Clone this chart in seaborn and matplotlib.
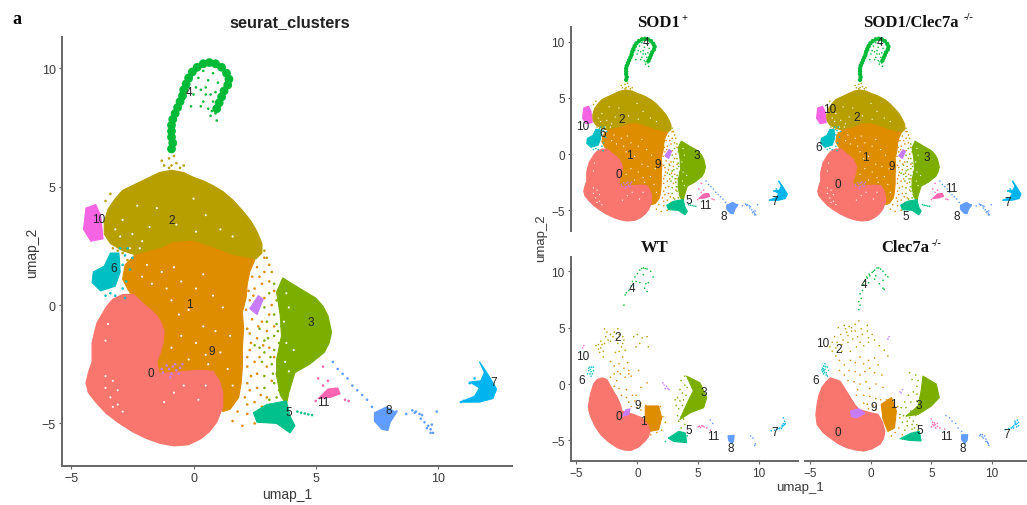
import matplotlib
matplotlib.use("Agg")
import matplotlib.pyplot as plt
import pandas as pd
import seaborn as sns

sns.set_theme(style="white")
plt.rcParams["font.family"] = ["Liberation Sans", "DejaVu Sans"]

PALETTE = {0: "#F8766D", 1: "#DE8C00", 2: "#B79F00", 3: "#7CAE00", 4: "#00BA38", 5: "#00C08B",
           6: "#00BFC4", 7: "#00B4F0", 8: "#619CFF", 9: "#C77CFF", 10: "#F564E3", 11: "#FF64B0", "gap": "#FFFFFF"}
TICKS_X = [-5, 0, 5, 10]
TICKS_Y = [-5, 0, 5, 10]

# ---------- outlines of the dense clouds and dots (umap_1, umap_2) ----------
outline_2 = [(-3.65,3.5),(-3.5,4.05),(-3.2,4.5),(-2.9,4.85),(-2.4,5.1),(-1.9,5.35),(-1.4,5.6),(-.9,5.7),(-.4,5.6),(0,5.4),(.4,5.25),(.8,5.05),(1.2,4.8),(1.6,4.45),(2,4),(2.35,3.55),(2.6,3.1),(2.8,2.6),(2.8,2.2),(2.55,1.95),(2.3,1.9),(1.5,2),(.5,2.2),(-.5,2.2),(-1.2,2.2),(-1.8,2),(-2.3,2.1),(-2.9,2.3),(-3.4,2.6),(-3.65,3)]
outline_1 = [(-2.4,2.1),(-1.3,2.4),(-.8,2.65),(0,2.7),(.55,2.5),(1.1,2.3),(1.6,2.1),(2.1,2),(2.5,1.9),(2.3,1.4),(2.2,.9),(2.15,.3),(2,-.3),(2.05,-1),(2,-1.8),(2,-2.6),(1.95,-3.3),(1.85,-3.9),(1.5,-4.4),(1.2,-4.5),(.9,-4),(.5,-3.5),(-.3,-3.2),(-1.8,-3),(-2,-1.5),(-2,-.5),(-2.4,.2),(-2.7,.7),(-2.9,1.1),(-2.8,1.7)]
outline_0 = [(-3.3,.25),(-2.9,.45),(-2.45,.45),(-2.1,.1),(-1.75,-.2),(-1.5,-.45),(-1.3,-.8),(-1.2,-1.15),(-1.25,-1.6),(-1.35,-2),(-1.5,-2.4),(-1.4,-2.9),(-.9,-2.85),(-.3,-2.8),(.3,-2.75),(.8,-2.8),(1.05,-3.2),(1.2,-3.7),(1.2,-4.3),(.95,-4.95),(.65,-5.35),(.3,-5.65),(-.2,-5.9),(-.8,-5.95),(-1.35,-5.85),(-1.9,-5.65),(-2.5,-5.35),(-3.1,-4.95),(-3.6,-4.55),(-4,-4.1),(-4.3,-3.7),(-4.4,-3.3),(-4.3,-2.85),(-4.15,-2.4),(-4.15,-2),(-4.15,-1.6),(-4.05,-1.15),(-3.95,-.75),(-3.75,-.4),(-3.55,-.05)]
outline_3 = [(3.65,1.15),(4.35,.7),(5,.3),(5.3,-.05),(5.5,-.45),(5.65,-1.15),(5.55,-1.6),(5.35,-2),(4.75,-2.5),(4.15,-2.85),(3.9,-3.7),(3.8,-4.2),(3.55,-3.8),(3.4,-3),(3.4,-2.3),(3.6,-1.3),(3.55,-.45),(3.4,.55)]
outline_5 = [(2.45,-4.55),(3,-4.2),(3.8,-4.05),(3.95,-4.7),(4.15,-5.1),(3.95,-5.4),(3.4,-5),(2.6,-4.95)]
outline_6 = [(-3.4,2.2),(-3.05,2.2),(-3,1.4),(-3.2,.8),(-3.8,.6),(-4.15,.95),(-4.1,1.4),(-3.65,1.65)]
outline_10 = [(-4.4,4.1),(-4,4.25),(-3.8,3.8),(-3.7,2.8),(-4.2,2.7),(-4.5,3.2)]
outline_7 = [(11.7,-2.4),(12,-2.85),(12.4,-3.55),(12.25,-3.95),(11.7,-4.1),(10.9,-4.1),(11.5,-3.85),(11.7,-3.5),(11.3,-3.25),(11.75,-3.2),(11.9,-2.85)]
outline_8 = [(7.4,-4.55),(7.9,-4.3),(8.3,-4.55),(8.05,-4.95),(7.95,-5.3),(7.7,-5.25),(7.4,-4.9)]
outline_11 = [(5.1,-3.95),(5.5,-3.55),(5.9,-3.5),(6,-3.75),(5.6,-3.9)]
outline_9 = [(2.3,-.15),(2.65,.4),(2.85,.25),(2.6,-.4)]
band_4 = [(-.9,6.6),(-.85,6.85),(-.9,7.1),(-.9,7.35),(-.9,7.6),(-.85,7.85),(-.75,8.1),(-.65,8.35),(-.55,8.6),(-.45,8.85),(-.4,9.1),(-.3,9.35),(-.2,9.6),(-.05,9.85),
          (.15,10.05),(.4,10.2),(.65,10.25),(.9,10.2),(1.15,10.05),(1.35,9.8),(1.45,9.55),(1.4,9.3),(1.25,9.05),(1.15,8.8),(1.05,8.55),(.95,8.3)]
fine_1 = [(2.4,1.2),(2.6,1.6),(2.9,1.4),(3.1,1),(2.5,.7),(2.8,.9),(3.3,.6),(2.3,.2),(2.9,.3),(3.2,0),(2.4,-.6),(2.8,-.7),(3.1,-.4),
          (2.3,-1.2),(2.6,-1.4),(3,-1.1),(2.3,-1.9),(2.7,-2.2),(3.1,-1.8),(2.2,-2.6),(2.6,-2.9),(3,-2.6),(2.2,-3.3),(2.6,-3.5),(3.2,-3.2),
          (2.1,-3.9),(2.5,-4.1),(3,-3.9),(1.8,-4.5),(2.2,-4.6),(2,-5.1),(1.6,-4.9),(2.45,.4),(2.65,-.9),(2.35,-1.6),(2.5,-2.4),(2.35,-3),
          (2.75,-3.8),(3.3,-.9),(3.3,-2.2),(2.9,2),(3.1,1.7),(2.7,1.2),(2.45,1.9),(2.2,-4.2),(2.8,-4.3),(2.5,-5),(2.2,-1),(2.2,-2.2),(2.3,-3.6),(2.15,-.2),(2.25,.6),(2.85,-1.7)]
fine_3 = [(3.3,.9),(3.1,.5),(3.4,.2),(2.9,-.1),(3.3,-.4),(2.7,-1),(3,-.7),(3.4,-.8),(2.9,-1.5),(3.3,-1.3),(3.5,-1.6),(2.5,-1.7),
          (2.9,-2),(3.3,-1.9),(3.5,-2.3),(2.8,-2.4),(3.2,-2.5),(3.4,-2.9),(2.9,-3),(3.3,-3.3),(3.5,-3.6),(2.9,-3.5),(3.4,-3.9),(3.1,-4),
          (3.6,-3.4),(3.65,-2.2),(3.05,-1.4),(2.7,-1.8),(3.25,-2.9),(3.55,-.2),(3.5,.6),(3.6,-.9),(3.15,-2.2),(3.45,-1.1)]
fine_2 = [(-1,6.2),(-.7,6),(-1.2,5.9),(-.55,5.8),(-.4,5.9),(-1,5.8),(-.8,6.3),(-2.4,2.1),(-2.7,1.9),(2.9,2.3),(3,2),(3.2,1.4),(-1.3,6.1),(-.9,5.9),(-3.3,2.4),(-3.1,2.3),(-2.9,2.2),(-3.6,4.4),(-3.4,4.7)]
fine_4 = [(-.4,8.7),(-.1,8.4),(0,8.9),(.3,9.1),(.4,8.6),(.6,8.3),(.8,8.6),(.9,9),(.6,9.5),(.2,9.6),(.4,9.9),(.8,9.8),(1,9.4),(.7,8),(.95,7.8),(-.2,9.2),(.5,9.2),(.1,9.2),(.1,9.9),(.7,8.9),(.3,8.4),(.9,8.1),(.75,8.2),(.5,8.9),(-.1,9.5)]
fine_6 = [(-2.8,2.1),(-2.7,2.4),(-2.6,1.5),(-2.9,.7),(-3.2,.4),(-3.4,.5),(-3.6,.4),(-2.8,.3),(-2.75,1),(-2.9,1.7),(-3,2.4),(-2.5,2)]
fine_8 = [(5.7,-2.4),(5.9,-2.7),(6.1,-2.9),(6.3,-3.1),(6.5,-3.4),(6.7,-3.6),(6.9,-3.8),(7.1,-4),(7.3,-4.3),(8.3,-4.5),(8.7,-4.6),
          (8.95,-4.45),(9.1,-4.5),(9.25,-4.6),(9.3,-4.8),(9.45,-4.95),(9.6,-5.1),(9.7,-5.25),(9.7,-5.4),(9.95,-4.5),(9.75,-5.05),(9.05,-4.55),(9.35,-4.65),(9.55,-5.2),(9.8,-5.4)]
fine_5 = [(4.4,-4.55),(4.55,-4.58),(4.7,-4.62),(4.85,-4.65),(4.25,-4.5)]
fine_11 = [(5.3,-3.4),(5.5,-3.2),(5.1,-3.1),(6.2,-4),(6.35,-4.05),(5,-4.05),(5.3,-2.6)]
fine_7 = [(11.2,-4.05),(10.95,-4.1),(11.05,-4.05),(11.35,-4.05),(11.5,-3.1),(11.3,-3.3)]
fine_9 = [(-1,-2.7),(-.75,-2.5),(-.55,-2.65),(-1.25,-2.85),(-.9,-2.9),(-.7,-2.75),(-.45,-2.5),(-1.1,-2.55),(-.85,-2.6),(-.6,-2.9),(-1.3,-2.7),(-.95,-3.05)]
gaps = [(-1.9,1.7),(-2.1,1.2),(-1.7,.9),(-1.3,1.4),(-1.1,.7),(-.8,1.6),(-.5,1),(-.9,.2),(-.6,-.4),(-.2,-.2),(.1,.7),(.4,1.3),(.8,.4),(1.2,-.1),(.4,-.9),(.9,-1.1),(.1,-1.6),(.5,-2.1),(-.5,-1.3),(-.9,-1.8),(1.1,-2),(.6,-2.5),(-.2,-2.3),(1.5,-1.3),(1.4,-2.7),(1.6,-3.4),
        (-3.2,3.2),(-2.9,3.6),(-2.5,3),(-2.1,2.7),(-1.8,3.3),(-1.5,4.1),(-.7,3.4),(0,4.5),(.5,3.8),(1.1,3.2),(-2.3,4.2),(-3,2.9),(-2.6,2.4),(-2.2,2.4),(1.6,2.9),(.1,3.1),
        (-3.6,-3.5),(-3.4,-3.9),(-3.3,-4.3),(-3.1,-3.6),(-2.9,-4.5),(-3.6,-3),(-3.3,-3.2),(-3.1,-4.2),(-.4,-3.4),(.2,-4),(-1.2,-4.1),(.5,-3.4),(-.8,-3.7),(-3.5,-.8),(-3.6,-1.5),
        (3.7,-.7),(3.8,-1.6),(3.75,-2.4),(3.9,-2.8),(4.1,-1.9),(3.9,-.1),(3.8,.5)]

atlas = [(2, outline_2, [], fine_2), (1, outline_1, [], fine_1), (3, outline_3, [], fine_3), (0, outline_0, [], []),
         (4, [], band_4, fine_4), (5, outline_5, [], fine_5), (6, outline_6, [], fine_6), (10, outline_10, [], []), (9, outline_9, [], fine_9),
         (11, outline_11, [], fine_11), (8, outline_8, [], fine_8), (7, outline_7, [], fine_7)]

# ---------- WT panel ----------
wt_outline_0 = [(-2.9,.55),(-2.5,.4),(-2.15,-.3),(-1.65,-1.2),(-1.4,-1.8),(-1.25,-2.4),(-.3,-2.7),(.4,-3),(.85,-3.6),(1.05,-4.2),(.9,-4.7),(.65,-5.05),(.1,-5.6),(-.55,-5.9),(-1.1,-5.85),(-1.65,-5.65),(-2.4,-5.1),(-3,-4.5),(-3.5,-3.7),(-3.85,-2.85),(-4,-2.3),(-4,-1.8),(-3.85,-.9),(-3.6,0),(-3.3,.4)]
wt_outline_1 = [(.65,-1.95),(1.75,-1.95),(2,-3),(1.75,-4.05),(1.05,-4.2),(.65,-3.3)]
wt_outline_3 = [(4.05,.7),(5.15,.1),(5.7,-1.2),(5.45,-2.1),(4.35,-2.55),(3.5,-3.15),(4.05,-1.8),(4.6,-.6)]
wt_outline_5 = [(2.55,-4.8),(3.4,-4.2),(3.95,-4.35),(4.05,-5.2),(3,-5.1)]
wt_outline_8 = [(7.45,-4.6),(7.95,-4.55),(7.9,-5.1),(7.75,-5.3),(7.5,-5)]
wt_outline_9 = [(-.95,-2.3),(-.6,-2.2),(-.7,-2.7),(-1.2,-2.85)]
wt_fine_4 = [(-1.1,7),(-1,7.9),(-.9,8.1),(-.7,8.3),(-.5,8.7),(-.4,9.1),(-.2,9.5),(0,9.8),(.2,10.1),(.5,10.3),(.8,10.2),(1.1,10),(1.3,9.5),(.9,9),(.7,8.9),(.6,8.5),(.8,8.2),(.2,9),(.5,9.7),(-.1,9.1),(.35,10.25),(.65,10.25)]
wt_fine_2 = [(-2.2,4.4),(-2.6,4.2),(-3,3.8),(-3.4,3.4),(-3.2,3.1),(-3.1,2.8),(-2.8,2.4),(-2.5,4.6),(-2,4.2),(-1.6,4.9),(-1.5,4.4),(-1.7,4),(-2.2,3.8),(-2.7,3.6),
             (-1.6,3.6),(-1.3,3.3),(-1,3),(-1.5,2.9),(-1.8,2.8),(-.3,4.2),(0,4.4),(.4,4.1),(.8,4.2),(.2,3.6),(.9,3.3),(-2.7,4.9),(-.1,3.3),(-2.9,3.5),(-3.2,3.5),(-2.4,3.9),(-1.2,3.6),(-1.2,4.2),(-1.9,4.6),(-3,3.2),(-2.8,2.9),(-1.1,3.9)]
wt_fine_1 = [(-2.2,2),(-1.9,1.6),(-1.5,1.8),(-1.1,1.4),(-.8,1.9),(-.7,1.2),(-1.4,.9),(-1,.6),(-.5,.7),(-2.2,.6),(-1.7,.3),(-1.9,-.2),(-1.5,-.4),(-.9,-.5),(.3,-.3),(.8,.1),(-.4,-1),
             (-1.3,-1),(-.7,-1.6),(-.2,-1.5),(.3,-1.7),(.7,-1.9),(.3,-2.3),(1.9,-2),(2.1,-2.9),(2.3,-3.4),(2,-4.1),(1.6,-4.3),(1.1,-4.5),(-1.2,2.4),(.1,1.2),(-.9,-1.2),(-.5,-2),(0,-2.1),(-.1,-1),(-1.6,1.1),(-.7,.9),(-1.9,.9)]
wt_fine_3 = [(3.9,.7),(3.6,.3),(3.9,-.1),(3.5,-.5),(3.7,-.8),(3.3,-1.2),(3.5,-1.5),(3.1,-1.4),(3.7,-1.9),(3.4,-2.2),(3.6,-2.9),(3.8,-3.1),(3.4,-3.3),(3.9,-3.6),(3.6,-3.9),(3.2,-1.9),(4,-1),(4.1,-.3),(3.8,-1.4),(3.9,-2.3),(3.3,-2.8)]
wt_fine_9 = [(2.2,-.1),(2.4,-.2),(2.5,-.4),(2.6,-.5),(2.3,-.4),(2.1,.1)]
wt_fine_10 = [(-4.5,3.2),(-4.4,3.4)]
wt_fine_6 = [(-4,1.2),(-3.9,.9),(-3.8,1.1),(-3.8,.7),(-3.6,1.2),(-3.6,1.5),(-4,1.4),(-3.9,1.5),(-3.7,.9),(-4.1,.9),(-3.85,1.3),(-3.75,1.5)]
wt_fine_5 = [(2.3,-5.1),(2.6,-4.8),(4.1,-4.6)]
wt_fine_11 = [(5,-3.8),(5.3,-3.7),(5.5,-3.8),(5.7,-3.9),(5.2,-3.85),(5.4,-3.75),(6,-4.1),(5.1,-3.75)]
wt_fine_8 = [(9.3,-4.6),(9.5,-4.8),(9.7,-5.3),(9.65,-5.45),(6,-3.2),(6.2,-3.5)]
wt_fine_7 = [(12,-3),(12.1,-3.3),(12,-3.5),(11.9,-3.8),(11.7,-3.9),(11.5,-4),(11.3,-4.1),(11,-4.15),(12,-3.7),(12.15,-3.5),(11.85,-3.95),(11.9,-3.65),(12.1,-3.6),(11.65,-3.95)]
wt = [(2, [], [], wt_fine_2), (1, wt_outline_1, [], wt_fine_1), (3, wt_outline_3, [], wt_fine_3), (0, wt_outline_0, [], []),
      (4, [], [], wt_fine_4), (5, wt_outline_5, [], wt_fine_5), (6, [], [], wt_fine_6), (10, [], [], wt_fine_10),
      (9, wt_outline_9, [], wt_fine_9), (11, [], [], wt_fine_11), (8, wt_outline_8, [], wt_fine_8), (7, [], [], wt_fine_7)]

# ---------- Clec7a-/- panel ----------
cl_outline_0 = [(-3.35,.55),(-2.55,.25),(-2.1,-.5),(-1.7,-1.2),(-1.35,-1.8),(-1,-2.25),(-.2,-2.5),(.6,-2.7),(.95,-3.4),(1.15,-4.2),(1.05,-4.8),(.75,-5.35),(.1,-5.75),(-.6,-5.95),(-1.3,-5.85),(-2,-5.65),(-2.7,-5.3),(-3.35,-4.8),(-3.95,-4.3),(-4.45,-3.6),(-4.55,-2.7),(-4.45,-1.8),(-4.3,-1),(-4.05,-.3),(-3.7,.2)]
cl_outline_1 = [(.85,-1.8),(1.7,-1.2),(2.1,-2.4),(1.95,-3.9),(1.4,-4.2),(1,-3.15)]
cl_outline_3 = [(4.3,.7),(5.4,0),(5.65,-1.2),(5,-1.95),(3.9,-2.7),(2.9,-2.85),(3.9,-1.95),(4.15,-.6)]
cl_outline_5 = [(2.4,-4.85),(3.35,-4.35),(4,-4.2),(4.15,-5.05),(3.2,-5)]
cl_outline_9 = [(-1.7,-2.4),(-1,-2.2),(-.5,-2.6),(-1.2,-3),(-1.6,-2.9)]
cl_outline_8 = [(7.5,-4.5),(8,-4.5),(7.95,-5),(7.75,-5.3),(7.5,-4.95)]
cl_fine_4 = [(-1,6.6),(-.9,7),(-1,7.3),(-.8,7.6),(-.9,8),(-.7,8.3),(-.6,8.8),(-.5,9.1),(-.3,9.4),(-.1,9.6),(.1,9.9),(.3,10.1),(.5,10.3),(.8,10.2),(1,10),(1.2,9.7),(1.4,9.5),(1,9.2),(.7,8.9),(1,8.5),(1.1,8.4),(.3,9.3),(-.2,9),(.4,9.6),(-.15,9.75),(.2,10),(.65,10.3),(-.35,9.5)]
cl_fine_2 = [(-2.7,5),(-2.2,5.2),(-1.8,5.1),(-1.3,5.3),(-1,5.6),(-.8,4.9),(-1.6,4.7),(-2,4.6),(-2.5,4.4),(-3,4.2),(-3.2,3.7),(-3.4,3.3),(-3.2,2.9),(-2.8,3.7),(-2.3,3.9),(-1.9,3.7),
             (-1.5,4),(-1.1,4.2),(-.7,4.4),(-.3,4.7),(.1,4.4),(.3,3.9),(-.2,3.7),(-.6,3.4),(-1.2,3.3),(-1.7,2.9),(-2.4,2.9),(-2.9,2.5),(.7,3.4),(1.1,3),(-.3,5.2),(1.4,2.5),(-2.1,4.9),(-1.6,5),(-2.4,3.5),(-2.9,3.2),(-1.9,4.3),(-1.3,4.7),(-.9,3.7),(-.2,4.1)]
cl_fine_1 = [(-2.6,2.1),(-2.2,1.7),(-1.7,2.1),(-1.3,1.9),(-.9,2.4),(-.6,1.8),(-.2,2.1),(.3,2.3),(.6,1.7),(-2.6,1.2),(-2.2,.8),(-1.8,1.2),(-1.3,1.1),(-.9,.8),(-.5,1.1),(-.1,1.4),(.3,1),(.9,.8),
             (-1.9,.3),(-1.4,.2),(-.9,0),(-.4,.2),(-.1,-.4),(.4,0),(1,-.3),(-1.2,-1),(-.6,-1),(-.1,-1.1),(.4,-1.3),(.8,-1.4),(-.3,-1.8),(.2,-1.9),(-.6,-1.7),(1.3,-1.4),(2.2,-2),(2.4,-3),(2.3,-3.9),(2.6,-4.5),(2,-4.3),(1.7,-4.6),(-.2,-2.2),(.4,-2.3),(-1.1,-.5)]
cl_fine_3 = [(3.2,1),(3.7,.8),(3.4,.4),(3.9,.3),(3.8,-.2),(3.5,-.7),(3.1,-1),(3.8,-.9),(3.3,-1.6),(2.8,-1.6),(3.8,-1.5),(2.5,-2.1),(2.9,-2.1),(2.7,-2.8),(3.2,-3),(2.6,-3.4),(3.7,-2.8),(3.5,-3.3),(3.8,-3.6),(3,-3.7),(3.4,-4),(2.8,-4.1),(3.9,-4.1),(3.6,-3.9),(2.4,-2.7),(3.3,-2.4),(3,-3.3),(3.4,-3.6)]
cl_fine_9 = [(1.4,4),(1.5,4.2),(2.4,-.7),(2.6,-.5),(2.5,-.8)]
cl_fine_6 = [(-3.9,1.6),(-3.8,1.3),(-4,1.1),(-3.9,.9),(-3.7,.8),(-3.6,.7),(-4,1.4),(-3.6,1.5),(-3.8,1.8),(-3.7,1),(-3.9,1.2),(-3.5,1.2),(-3.75,1.55),(-4.05,1.25),(-3.85,1.05),(-3.95,1.35)]
cl_fine_11 = [(5,-3.1),(5.1,-3.4),(5.2,-3.7),(5.3,-3.6),(5.5,-3.5),(5.7,-3.9),(5,-3.8),(5.35,-3.9),(5.1,-3.6),(5.5,-3.75),(6.1,-4),(5.25,-3.45)]
cl_fine_8 = [(6.2,-2.8),(6.5,-3),(6.7,-3.3),(7,-3.5),(7.2,-3.9),(7.5,-4.2),(9,-4.6),(9.2,-4.5),(9.4,-4.6),(9.3,-4.8),(9.5,-4.9),(9.6,-5.1),(9.7,-5.3),(9.75,-5.45),(9.2,-4.7),(9.5,-5.1),(9.05,-4.5),(9.65,-5.2)]
cl_fine_7 = [(11.9,-3.3),(12.1,-3.2),(12.2,-3.4),(12.2,-3.7),(12,-3.6),(11.8,-3.7),(11.6,-3.9),(11.4,-3.95),(11.1,-4.05),(11.8,-3.9),(12.05,-3.8),(11.95,-3.45),(12.1,-3.5),(11.9,-3.55),(11.7,-3.8)]
cl = [(2, [], [], cl_fine_2), (1, cl_outline_1, [], cl_fine_1), (3, cl_outline_3, [], cl_fine_3), (0, cl_outline_0, [], []),
      (9, cl_outline_9, [], cl_fine_9), (4, [], [], cl_fine_4), (5, cl_outline_5, [], []), (6, [], [], cl_fine_6),
      (11, [], [], cl_fine_11), (8, cl_outline_8, [], cl_fine_8), (7, [], [], cl_fine_7)]

# ---------- cluster label positions ----------
labels_main = {0:(-1.75,-2.85),1:(-.15,.05),2:(-.9,3.6),3:(4.8,-.7),4:(-.2,9),5:(3.9,-4.5),6:(-3.25,1.55),7:(12.3,-3.25),8:(8,-4.45),9:(.75,-1.95),10:(-3.9,3.65),11:(5.3,-4.1)}
labels_sod = {0:(-1.5,-1.75),1:(-.6,-.05),2:(-1.3,3.15),3:(4.9,-.05),4:(.74,9.95),5:(4.25,-4.05),6:(-2.8,1.85),7:(11.35,-4.2),8:(7.15,-5.5),9:(1.75,-.9),10:(-4.5,2.5),11:(5.65,-4.5)}
labels_sodcl = {0:(-2.75,-2.7),1:(-.5,-.25),2:(-1.2,3.3),3:(4.65,-.25),4:(.74,9.95),5:(2.9,-5.5),6:(-4.3,.6),7:(11.3,-4.3),8:(7.1,-5.5),9:(1.7,-1.1),10:(-3.4,4),11:(6.6,-3)}
labels_wt = {0:(-1.5,-2.8),1:(.5,-3.3),2:(-1.6,4.2),3:(5.5,-.7),4:(-.4,8.5),5:(4.2,-4.1),6:(-4.6,.4),7:(11.3,-4.3),8:(7.65,-5.7),9:(0,-1.9),10:(-4.5,2.5),11:(6.25,-4.6)}
labels_cl = {0:(-2.75,-4.25),1:(1.85,-1.75),2:(-2.65,3.1),3:(3.95,-1.9),4:(-.6,8.9),5:(4.05,-4.1),6:(-4.6,.4),7:(11.25,-4.4),8:(7.6,-5.7),9:(.25,-2.05),10:(-4,3.6),11:(6.2,-4.6)}

W, H = 1027, 506
fig = plt.figure(figsize=(W / 100, H / 100), dpi=100, facecolor="white")
GREY = "#666666"
TXT = "#3a3a3a"


def make_axes(l, r, t, b, xlim, ylim, left, bottom, tick_fs):
    ax = fig.add_axes([l / W, 1 - b / H, (r - l) / W, (b - t) / H])
    ax.set_facecolor("none")
    ax.set_xlim(*xlim)
    ax.set_ylim(*ylim)
    ax.set_xticks(TICKS_X)
    ax.set_yticks(TICKS_Y)
    for s in ("top", "right"):
        ax.spines[s].set_visible(False)
    ax.spines["left"].set_visible(left)
    ax.spines["bottom"].set_visible(bottom)
    for s in ("left", "bottom"):
        ax.spines[s].set_color(GREY)
        ax.spines[s].set_linewidth(1.4)
    ax.tick_params(axis="x", bottom=bottom, labelbottom=bottom, length=2.5, width=0.8, color=GREY, labelsize=tick_fs, labelcolor=TXT, pad=2)
    ax.tick_params(axis="y", left=left, labelleft=left, length=2.5, width=0.8, color=GREY, labelsize=tick_fs, labelcolor=TXT, pad=2)
    ax.grid(False)
    return ax


def tier(ax, cluster, pts, diameter_px):
    if not pts:
        return
    df = pd.DataFrame(pts, columns=["umap_1", "umap_2"])
    df["cluster"] = cluster
    sns.scatterplot(data=df, x="umap_1", y="umap_2", hue="cluster", palette=PALETTE, s=(diameter_px * 0.72) ** 2,
                    linewidth=0, legend=False, ax=ax)


def draw(ax, layers, ppu, labels, fine_px, fs, gap_pts=()):
    for cluster, outline, band, fine in layers:
        if outline:
            xs, ys = zip(*outline)
            ax.fill(xs, ys, color=PALETTE[cluster], linewidth=0.8, joinstyle="round")
        tier(ax, cluster, band, 0.36 * ppu)
        tier(ax, cluster, fine, fine_px)
        if cluster == 0:
            tier(ax, "gap", list(gap_pts), fine_px * 0.8)
    ax.set_xlabel("")
    ax.set_ylabel("")
    for k, (x, y) in labels.items():
        ax.text(x, y, str(k), ha="center", va="center", fontsize=fs, color="#222222")


main = make_axes(62, 512, 38, 467, (-5.38, 13.03), (-6.8, 11.33), True, True, 9)
draw(main, atlas, 24.45, labels_main, 2.6, 8.5, gaps)
main.set_xlabel("umap_1", fontsize=10, color=TXT, labelpad=2)
main.set_ylabel("umap_2", fontsize=10, color=TXT, labelpad=2)
fig.text(290 / W, 1 - 23 / H, "seurat_clusters", ha="center", va="center", fontsize=11.8, fontweight="bold", color="#222222")
fig.text(17 / W, 1 - 20 / H, "a", ha="center", va="center", fontsize=13, fontweight="bold", family="Liberation Serif", color="black")

xl_a = (-5.45, 13.2)
xl_b = (-5.45, 12.9)
a1 = make_axes(571, 797, 28, 232, xl_a, (-6.84, 11.3), True, False, 8.5)
draw(a1, atlas, 12.1, labels_sod, 1.6, 8.5, gaps)
a2 = make_axes(805, 1027, 28, 232, xl_b, (-6.84, 11.3), False, False, 8.5)
draw(a2, atlas, 12.1, labels_sodcl, 1.6, 8.5, gaps)
a3 = make_axes(571, 798, 258, 462, xl_a, (-6.83, 11.27), True, True, 8.5)
draw(a3, wt, 12.1, labels_wt, 1.6, 8.5)
a4 = make_axes(805, 1027, 258, 462, xl_b, (-6.83, 11.27), False, True, 8.5)
draw(a4, cl, 12.1, labels_cl, 1.6, 8.5)

SERIF = {"fontweight": "bold", "family": "Liberation Serif", "color": "#111111"}
for x, y, t, sup_x, sup in [(637, 23, "SOD1", 681, "+"), (863, 23, "SOD1/Clec7a", 964, "-/-"), (641, 248, "WT", None, ""), (881, 248, "Clec7a", 932, "-/-")]:
    fig.text(x / W, 1 - y / H, t, ha="left", va="center", fontsize=12, **SERIF)
    if sup:
        fig.text(sup_x / W, 1 - (y - 5) / H, sup, ha="left", va="center", fontsize=7.5, **SERIF)
fig.text(541 / W, 1 - 238 / H, "umap_2", rotation=90, ha="center", va="center", fontsize=9.5, color=TXT)
fig.text(800 / W, 1 - 488 / H, "umap_1", ha="center", va="center", fontsize=9.5, color=TXT)

fig.savefig("out.png", dpi=100)
